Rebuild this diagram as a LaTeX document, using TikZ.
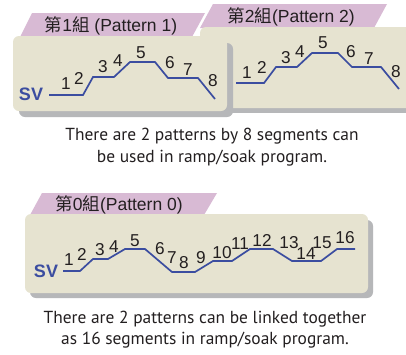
\documentclass[tikz,border=0pt]{standalone}
\usepackage{fontspec}
\setmainfont{Liberation Sans}
\newfontfamily\cjk{Noto Sans CJK TC}
\newfontfamily\myr{PT Sans}
\definecolor{tan}{RGB}{230,227,208}
\definecolor{tabpurple}{RGB}{216,186,212}
\definecolor{shadowgrey}{RGB}{182,183,185}
\definecolor{svblue}{RGB}{59,77,160}
\definecolor{txt}{RGB}{35,31,32}
\tikzset{
  panelbox/.style={fill=tan, rounded corners=6pt},
  shadowbox/.style={fill=shadowgrey, rounded corners=6pt},
  tabshape/.style={fill=tabpurple},
  tabtext/.style={text=txt, inner sep=0pt, font=\fontsize{17.5}{19}\selectfont},
  seg/.style={text=txt, inner sep=0pt, font=\fontsize{17.2}{19}\selectfont},
  svlabel/.style={text=svblue, inner sep=0pt, font=\bfseries\fontsize{18}{20}\selectfont},
  curve/.style={draw=svblue, line width=1.7pt, line join=miter},
  caption/.style={text=txt, inner sep=0pt, align=center, font=\myr\fontsize{17.4}{21.5}\selectfont},
}
\begin{document}
\begin{tikzpicture}[x=1pt,y=-1pt]
\clip (0,0) rectangle (406,354);
\fill[white] (0,0) rectangle (406,354);
% ---------- Panel 2 (behind) ----------
\fill[tabshape] (200,28) -- (213,4) -- (387,4) -- (374,28) -- cycle;
\fill[shadowgrey] (205,33) rectangle (420,113);
\fill[panelbox] (200,27) rectangle (420,108);
\node[tabtext] (t2) at (291,17) {{\cjk 第}2{\cjk 組}(Pattern 2)};
% ---------- Panel 1 (front) ----------
\fill[white] (191,37) -- (204,13) -- (207,13) -- (194,37) -- cycle;
\fill[tabshape] (20,37) -- (32,13) -- (205,13) -- (192,37) -- cycle;
\fill[shadowbox] (19,43) rectangle (233,117);
\fill[panelbox] (13,36) rectangle (227,111);
\node[tabtext] (t1) at (111,26) {{\cjk 第}1{\cjk 組} (Pattern 1)};
% ---------- Panel 3 ----------
\fill[tabshape] (30,215) -- (42,193) -- (217,193) -- (204,215) -- cycle;
\fill[shadowbox] (30,220) rectangle (373,298);
\fill[panelbox] (25,214) rectangle (368,293);
\node[tabtext] (t3) at (119,205) {{\cjk 第}0{\cjk 組}(Pattern 0)};
% ---------- curve 1 ----------
\node[svlabel] (sv1) at (31,94) {SV};
\draw[curve] (49,95) -- (83,95) -- (93,77) -- (114,77) -- (130,62) -- (155,62)
  -- (168,78) -- (198,78) -- (215,99);
\node[seg] (a1) at (66,84) {1};
\node[seg] (a2) at (79,78) {2};
\node[seg] (a3) at (103,67) {3};
\node[seg] (a4) at (118,61) {4};
\node[seg] (a5) at (141,53) {5};
\node[seg] (a6) at (170,63) {6};
\node[seg] (a7) at (188,70) {7};
\node[seg] (a8) at (213,81) {8};
% ---------- curve 2 ----------
\draw[curve] (236,83) -- (264,83) -- (276,67) -- (297,67) -- (312,53) -- (338,53)
  -- (352,67) -- (381,67) -- (399,89);
\node[seg] (b1) at (247,73) {1};
\node[seg] (b2) at (262,67) {2};
\node[seg] (b3) at (286,58) {3};
\node[seg] (b4) at (300,52) {4};
\node[seg] (b5) at (323,43) {5};
\node[seg] (b6) at (351,52) {6};
\node[seg] (b7) at (369,59) {7};
\node[seg] (b8) at (396,72) {8};
% ---------- curve 3 ----------
\node[svlabel] (sv3) at (46,271) {SV};
\draw[curve] (63,271) -- (80,271) -- (93,259) -- (108,259) -- (125,249) -- (145,249)
  -- (172,272) -- (195,272) -- (213,261) -- (232,261) -- (250,249) -- (273,249)
  -- (292,261) -- (321,261) -- (337,249) -- (355,249);
\node[seg] (c1) at (69,260) {1};
\node[seg] (c2) at (82,254) {2};
\node[seg] (c3) at (100,250) {3};
\node[seg] (c4) at (114,247) {4};
\node[seg] (c5) at (135,241) {5};
\node[seg] (c6) at (160,249) {6};
\node[seg] (c7) at (172,258) {7};
\node[seg] (c8) at (184,263) {8};
\node[seg] (c9) at (201,258) {9};
\node[seg] (c10) at (222,253) {10};
\node[seg] (c11) at (240,244) {11};
\node[seg] (c12) at (262,240) {12};
\node[seg] (c13) at (289,243) {13};
\node[seg] (c14) at (306,254) {14};
\node[seg] (c15) at (322,243) {15};
\node[seg] (c16) at (345,238) {16};
% ---------- captions ----------
\node[caption] (cap1) at (212,147) {There are 2 patterns by 8 segments can\\be used in ramp/soak program.};
\node[caption] (cap2) at (205,329.5) {There are 2 patterns can be linked together\\as 16 segments in ramp/soak program.};
\end{tikzpicture}
\end{document}
